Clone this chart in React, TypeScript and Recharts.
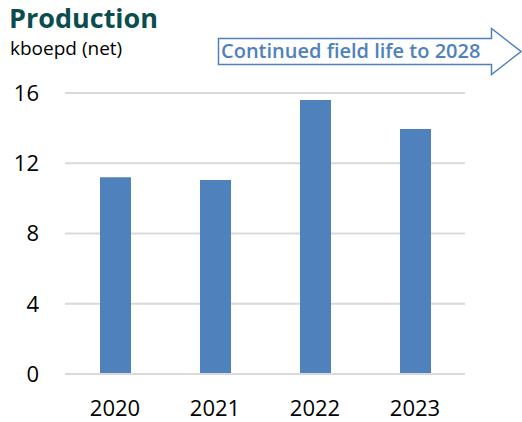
import React from "react";
import { BarChart, Bar, XAxis, YAxis, CartesianGrid } from "recharts";

const years = ["2020", "2021", "2022", "2023"];
const production = [11.2, 11.05, 15.6, 13.95];
const yTicks = [0, 4, 8, 12, 16];

const data = years.map((y, i) => ({ year: y, value: production[i] }));

const font = "'Open Sans', 'Noto Sans', sans-serif";

export default function App() {
  return (
    <div style={{ position: "absolute", left: 0, top: 0, width: 522, height: 422, background: "#fff", fontFamily: font }}>
      <svg width={522} height={90} style={{ position: "absolute", left: 0, top: 0 }}>
        <text x={9} y={27.5} fontSize={27} fontWeight={700} fill="#0b4d4f" fontFamily={font}>
          Production
        </text>
        <text x={10} y={55} fontSize={19} fill="#000" fontFamily={font}>
          kboepd (net)
        </text>
        <polygon
          points="218.5,38.5 491.5,38.5 491.5,28.5 521,51.5 491.5,74.5 491.5,64.5 218.5,64.5"
          fill="#fff"
          stroke="#4f81bd"
          strokeWidth={1.5}
        />
        <text x={221} y={58} fontSize={20} fontWeight={600} fill="#4f81bd" fontFamily={font}>
          Continued field life to 2028
        </text>
      </svg>
      <div style={{ position: "absolute", left: 0, top: 0 }}>
        <BarChart width={522} height={422} data={data} margin={{ top: 93, right: 57, bottom: 0, left: 15 }}>
          <CartesianGrid vertical={false} stroke="#d9d9d9" strokeWidth={2} />
          <XAxis
            dataKey="year"
            height={48}
            tickLine={false}
            axisLine={{ stroke: "#d9d9d9", strokeWidth: 2 }}
            tick={{ fill: "#000", fontSize: 22, fontFamily: font }}
            tickMargin={20}
          />
          <YAxis
            width={50}
            domain={[0, 16]}
            ticks={yTicks}
            axisLine={false}
            tickLine={false}
            tickSize={0}
            tickMargin={26}
            tick={{ fill: "#000", fontSize: 22, fontFamily: font }}
          />
          <Bar dataKey="value" fill="#4f81bd" barSize={31} isAnimationActive={false} />
        </BarChart>
      </div>
    </div>
  );
}
